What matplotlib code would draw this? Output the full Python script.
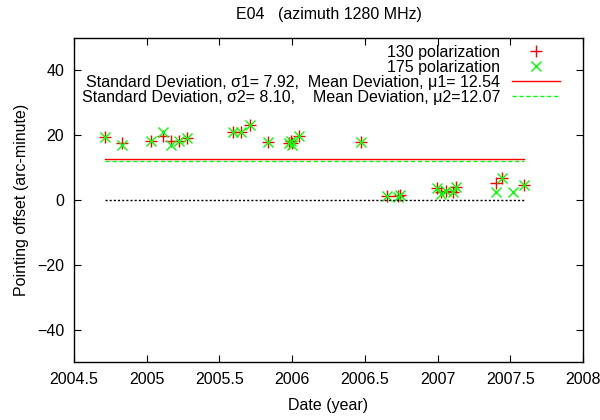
import matplotlib
matplotlib.use("Agg")
import matplotlib.pyplot as plt

plt.rcParams['font.family'] = ['Liberation Sans', 'DejaVu Sans']

# data
dates_130 = [2004.713, 2004.830, 2005.030, 2005.112, 2005.164, 2005.222, 2005.274,
             2005.590, 2005.649, 2005.707, 2005.834, 2005.975, 2005.989, 2005.999,
             2006.047, 2006.474, 2006.651, 2006.728, 2006.742, 2006.994, 2007.022,
             2007.058, 2007.105, 2007.127, 2007.402, 2007.441, 2007.597]
offset_130 = [19.4, 17.5, 18.0, 19.8, 18.0, 18.0, 19.0,
              21.0, 21.0, 23.0, 17.8, 17.4, 18.2, 17.5,
              19.8, 17.8, 1.2, 1.3, 1.6, 3.6, 2.6,
              2.9, 2.4, 4.1, 5.1, 6.9, 4.5]
dates_175 = [2004.713, 2004.830, 2005.030, 2005.112, 2005.164, 2005.222, 2005.274,
             2005.590, 2005.649, 2005.707, 2005.834, 2005.975, 2005.989, 2005.999,
             2006.047, 2006.474, 2006.651, 2006.728, 2006.742, 2006.994, 2007.022,
             2007.058, 2007.105, 2007.127, 2007.402, 2007.441, 2007.519, 2007.597]
offset_175 = [19.4, 16.9, 18.0, 21.0, 17.0, 18.0, 19.0,
              21.0, 21.0, 23.0, 17.8, 17.4, 18.2, 17.0,
              19.8, 17.8, 1.2, 0.8, 1.5, 3.6, 1.7,
              2.9, 2.4, 4.1, 2.6, 6.9, 2.6, 4.5]
mean_130 = 12.54
mean_175 = 12.07
line_start, line_end = 2004.713, 2007.597

label_130 = "130 polarization"
label_175 = "175 polarization"
label_m1 = "Standard Deviation, σ1= 7.92,  Mean Deviation, μ1= 12.54"
label_m2 = "Standard Deviation, σ2= 8.10,    Mean Deviation, μ2=12.07"

xticks = [2004.5, 2005, 2005.5, 2006, 2006.5, 2007, 2007.5, 2008]
xticklabels = ["2004.5", "2005", "2005.5", "2006", "2006.5", "2007", "2007.5", "2008"]
yticks = [-40, -20, 0, 20, 40]

fig = plt.figure(figsize=(6, 4.2), dpi=100)
ax = fig.add_axes([0.1233, 0.137, 0.8484, 0.7737])

fs = 11.5
h1, = ax.plot(dates_130, offset_130, linestyle='none', marker='+', color='#ff0000',
              markersize=8, markeredgewidth=1.0, label=label_130)
h2, = ax.plot(dates_175, offset_175, linestyle='none', marker='x', color='#00ff00',
              markersize=7.5, markeredgewidth=1.0, label=label_175)
h3, = ax.plot([line_start, line_end], [mean_130, mean_130], color='#ff0000', lw=1.0,
              label=label_m1)
h4, = ax.plot([line_start, line_end], [mean_175, mean_175], color='#00ff00', lw=1.0,
              dashes=(3, 2), label=label_m2)
ax.plot([line_start, line_end], [0, 0], color='black', lw=1.0, dashes=(1.5, 1.5))

ax.set_xlim(2004.5, 2008)
ax.set_ylim(-50, 50)
ax.set_xticks(xticks)
ax.set_xticklabels(xticklabels)
ax.set_yticks(yticks)
ax.tick_params(direction='in', top=True, right=True, length=5, width=0.8,
               labelsize=fs, pad=7)
for s in ax.spines.values():
    s.set_linewidth(1.0)

ax.set_xlabel("Date (year)", fontsize=fs, labelpad=8)
ax.set_ylabel("Pointing offset (arc-minute)", fontsize=fs, labelpad=6)
ax.set_title("E04   (azimuth 1280 MHz)", fontsize=fs, pad=13)

leg = ax.legend(handles=[h1, h2, h3, h4], loc='upper right',
                bbox_to_anchor=(560 / 600, 1 - 45 / 420), bbox_transform=fig.transFigure,
                frameon=False, markerfirst=False, fontsize=fs, numpoints=1,
                handlelength=3.0, handletextpad=0.75, labelspacing=0.0, borderpad=0,
                borderaxespad=0)

fig.savefig("out.png", dpi=100)
